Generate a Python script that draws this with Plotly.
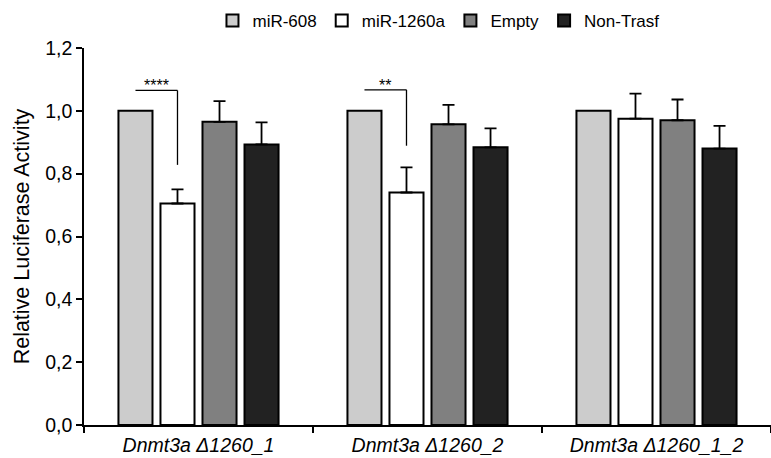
import plotly.graph_objects as go

# ---- data ----
groups = ["Dnmt3a Δ1260_1", "Dnmt3a Δ1260_2", "Dnmt3a Δ1260_1_2"]
series = ["miR-608", "miR-1260a", "Empty", "Non-Trasf"]
mir608 = [1.00, 1.00, 1.00]
mir1260a = [0.705, 0.740, 0.975]
empty = [0.965, 0.957, 0.970]
nontrasf = [0.893, 0.884, 0.880]
err_mir1260a = [0.045, 0.080, 0.080]
err_empty = [0.066, 0.062, 0.066]
err_nontrasf = [0.070, 0.060, 0.072]
y_ticks = [0.0, 0.2, 0.4, 0.6, 0.8, 1.0, 1.2]
y_tick_labels = ["0,0", "0,2", "0,4", "0,6", "0,8", "1,0", "1,2"]
# significance brackets
sig_groups = [0, 1]
sig_top = [1.065, 1.067]
sig_drop = [0.828, 0.889]
sig_labels = ["****", "**"]

colors = ["#cccccc", "#ffffff", "#808080", "#222222"]
values = [mir608, mir1260a, empty, nontrasf]
errors = [None, err_mir1260a, err_empty, err_nontrasf]

FONT = "Liberation Sans, Arial, sans-serif"
BARGAP = 0.266
BARGROUPGAP = 0.19

fig = go.Figure()
for name, vals, col, err in zip(series, values, colors, errors):
    kw = {}
    if err is not None:
        kw["error_y"] = dict(type="data", array=err, arrayminus=[0] * len(err),
                             symmetric=False, color="#000000", thickness=1.8, width=6)
    fig.add_trace(go.Bar(name=name, x=groups, y=vals,
                         marker=dict(color=col, line=dict(color="#000000", width=2)),
                         **kw))

# brackets computed from bar slot geometry
slot = (1 - BARGAP) / len(series)
for gi, top, drop, lab in zip(sig_groups, sig_top, sig_drop, sig_labels):
    x1 = gi + (0 - 1.5) * slot
    x2 = gi + (1 - 1.5) * slot
    fig.add_shape(type="line", xref="x", yref="y", x0=x1, x1=x2, y0=top, y1=top,
                  line=dict(color="#000000", width=1.3))
    fig.add_shape(type="line", xref="x", yref="y", x0=x2, x1=x2, y0=top, y1=drop,
                  line=dict(color="#000000", width=1.3))
    fig.add_annotation(x=(x1 + x2) / 2, y=top, xref="x", yref="y", text=lab,
                       showarrow=False, yanchor="bottom", yshift=-6,
                       font=dict(family=FONT, size=16, color="#000000"))

fig.update_layout(
    width=771, height=458,
    margin=dict(l=84, r=0, t=48, b=33),
    paper_bgcolor="white", plot_bgcolor="white",
    barmode="group", bargap=BARGAP, bargroupgap=BARGROUPGAP,
    font=dict(family=FONT, color="#000000"),
    legend=dict(orientation="h", x=0.187, xanchor="left", y=1.072, yanchor="middle",
                font=dict(family=FONT, size=17, color="#000000"),
                itemwidth=30, tracegroupgap=0, bgcolor="rgba(0,0,0,0)"),
    showlegend=True,
)
fig.update_xaxes(
    range=[-0.5, 2.5], showline=True, linecolor="#000000", linewidth=1.5,
    ticks="outside", tickson="boundaries", ticklen=6, tickwidth=1.5, tickcolor="#000000",
    tickfont=dict(family=FONT, size=19.5, style="italic", color="#000000"),
    ticklabelstandoff=2, showgrid=False, zeroline=False,
)
fig.update_yaxes(
    range=[0, 1.2], tickvals=y_ticks, ticktext=y_tick_labels,
    showline=True, linecolor="#000000", linewidth=1.5,
    ticks="outside", ticklen=6, tickwidth=1.5, tickcolor="#000000",
    tickfont=dict(family=FONT, size=19.5, color="#000000"),
    title=dict(text="Relative Luciferase Activity", standoff=10,
               font=dict(family=FONT, size=21.5, color="#000000")),
    showgrid=False, zeroline=False,
)

fig.write_html("out.html", config={"displayModeBar": False},
               post_script="document.body.style.margin='0';document.body.style.padding='0';")
